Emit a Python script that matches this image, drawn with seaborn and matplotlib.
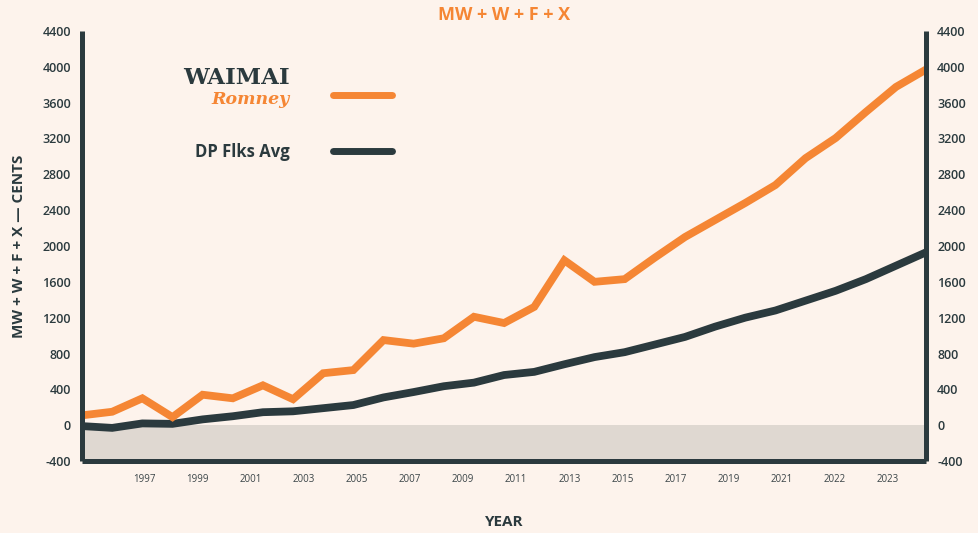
import numpy as np
import pandas as pd

import matplotlib
matplotlib.use("Agg")
import matplotlib.pyplot as plt
from matplotlib.legend_handler import HandlerLine2D
import seaborn as sns


# ---------------------------- data ----------------------------
period = np.arange(29)

waimai_vals = [110, 150, 300, 90, 340, 300, 445, 290, 580, 615,
               950, 910, 970, 1210, 1140, 1320, 1840, 1600, 1630, 1870,
               2100, 2290, 2480, 2680, 2980, 3205, 3495, 3775, 3970]

dp_vals = [-10, -30, 20, 15, 65, 100, 145, 155, 190, 225,
           310, 370, 435, 475, 560, 595, 680, 760, 815, 900,
           985, 1100, 1200, 1280, 1390, 1500, 1630, 1780, 1930]

series_names = ["WAIMAI", "DP Flks Avg"]

year_labels = ["1997", "1999", "2001", "2003", "2005", "2007", "2009", "2011",
               "2013", "2015", "2017", "2019", "2021", "2022", "2023"]

y_ticks = list(range(-400, 4401, 400))

# ---------------------------- style ----------------------------
BG = "#fdf3ec"
ORANGE = "#f58634"
DARK = "#2b3a3e"
BAND = "#dfd8d1"


# legend swatch that sits a bit lower than its label (logo has two lines)
class LoweredLine(HandlerLine2D):
    def __init__(self, drop, **kw):
        super().__init__(**kw)
        self.drop = drop

    def create_artists(self, legend, orig_handle, xdescent, ydescent,
                       width, height, fontsize, trans):
        arts = super().create_artists(legend, orig_handle, xdescent, ydescent,
                                      width, height, fontsize, trans)
        for a in arts:
            a.set_ydata(np.asarray(a.get_ydata()) - self.drop * fontsize)
        return arts


sns.set_theme(style="white")
plt.rcParams["font.family"] = ["Open Sans", "DejaVu Sans"]

df = pd.DataFrame({
    "period": np.concatenate([period, period]),
    "value": waimai_vals + dp_vals,
    "series": [series_names[0]] * len(period) + [series_names[1]] * len(period),
})

fig = plt.figure(figsize=(9.79, 5.33), dpi=100, facecolor=BG)
ax = fig.add_axes([0.0838, 0.135, 0.8622, 0.807])
ax.set_facecolor(BG)

# grey band below zero
ax.axhspan(y_ticks[0], 0, color=BAND, zorder=0, lw=0)

sns.lineplot(data=df, x="period", y="value", hue="series",
             palette={series_names[0]: ORANGE, series_names[1]: DARK},
             hue_order=series_names[::-1], linewidth=5.6, legend=False, ax=ax)
for ln in ax.get_lines():
    ln.set_solid_joinstyle("miter")

ax.set_xlim(period[0], period[-1])
ax.set_ylim(y_ticks[0], y_ticks[-1])

# spines
ax.spines["top"].set_visible(False)
for side in ["left", "right", "bottom"]:
    ax.spines[side].set_color(DARK)
    ax.spines[side].set_linewidth(3.6)
    ax.spines[side].set_capstyle("butt")

# y ticks both sides
ax.set_yticks(y_ticks)
ax.set_yticklabels([str(v) for v in y_ticks])
ax.tick_params(axis="y", which="both", length=0, labelleft=True, labelright=True,
               pad=8, labelsize=9, labelcolor=DARK)
for t in ax.get_yticklabels():
    t.set_fontweight("semibold")

# x ticks - evenly spaced labels, not aligned with the yearly points
tick_pos = np.linspace(2.06, 26.74, len(year_labels))
ax.set_xticks(tick_pos)
ax.set_xticklabels(year_labels)
ax.tick_params(axis="x", length=0, pad=9, labelsize=7, labelcolor="#3b4548")

ax.set_xlabel("YEAR", fontsize=11, fontweight="bold", color=DARK, labelpad=22)
ax.set_ylabel("MW + W + F + X — CENTS", fontsize=11, fontweight="bold",
              color=DARK, labelpad=12)
ax.set_title("MW + W + F + X", fontsize=13, fontweight="bold", color=ORANGE, pad=8)

# legend with the line swatch after the label
lines = ax.get_lines()
handles = [lines[1], lines[0]]
leg = ax.legend(handles, series_names, loc="upper left",
                bbox_to_anchor=(0.11, 0.935), frameon=False, markerfirst=False,
                handlelength=3.5, handletextpad=2.6, labelspacing=3.2,
                borderpad=0, fontsize=12,
                handler_map={lines[1]: LoweredLine(1.0)})
texts = leg.get_texts()
texts[0].set_family(["DejaVu Serif"])
texts[0].set_fontweight("bold")
texts[0].set_fontsize(16.5)
texts[0].set_color(DARK)
texts[1].set_fontweight("bold")
texts[1].set_color(DARK)
for h in leg.legend_handles:
    h.set_linewidth(5)

# draw once so the legend text has its final place, then hang the script word under it
fig.canvas.draw()
ax.annotate("Romney", xy=(1, 0), xycoords=texts[0], xytext=(0, -1),
            textcoords="offset points", ha="right", va="top",
            fontsize=12.5, fontstyle="italic", fontweight="bold",
            family=["DejaVu Serif"], color=ORANGE, zorder=10)

fig.savefig("out.png", dpi=100, facecolor=BG)
